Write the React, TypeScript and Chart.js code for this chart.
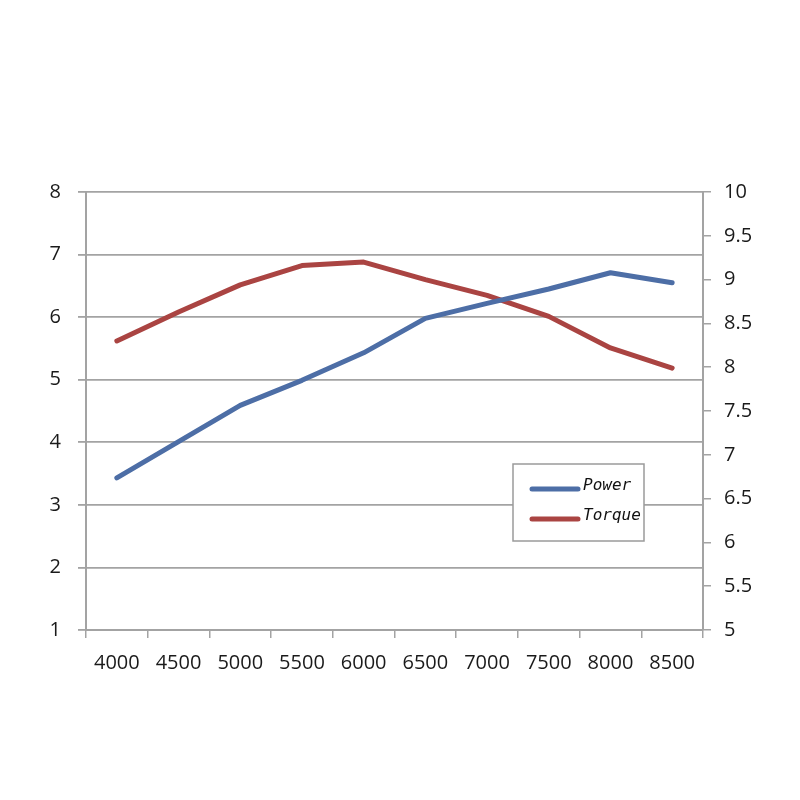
import React, { useEffect, useRef } from "react";
import { Chart, registerables } from "chart.js";

Chart.register(...registerables);

const rpm = ["4000", "4500", "5000", "5500", "6000", "6500", "7000", "7500", "8000", "8500"];
const power = [3.43, 4.01, 4.59, 4.99, 5.43, 5.98, 6.22, 6.45, 6.71, 6.55];
const torque = [8.3, 8.63, 8.94, 9.16, 9.2, 9.0, 8.82, 8.58, 8.22, 7.99];
const seriesNames = ["Power", "Torque"];
const seriesColors = ["#4d6ea6", "#aa4442"];

const GRID = "#a3a3a3";
const TICK_FONT = { family: "'Open Sans', 'Liberation Sans', sans-serif", size: 20 };
const TICK_COLOR = "#1a1a1a";

const insideLegend = {
  id: "insideLegend",
  afterDraw(chart: any) {
    const { ctx, chartArea } = chart;
    const x = chartArea.right - 190;
    const y = chartArea.top + 272;
    const w = 131;
    const h = 77;
    ctx.save();
    ctx.fillStyle = "#ffffff";
    ctx.fillRect(x, y, w, h);
    ctx.strokeStyle = "#9a9a9a";
    ctx.lineWidth = 1.5;
    ctx.strokeRect(x, y, w, h);
    chart.data.datasets.forEach((ds: any, i: number) => {
      const ly = y + 25 + i * 30;
      ctx.strokeStyle = ds.borderColor;
      ctx.lineWidth = 5;
      ctx.lineCap = "round";
      ctx.beginPath();
      ctx.moveTo(x + 19, ly);
      ctx.lineTo(x + 65, ly);
      ctx.stroke();
      ctx.fillStyle = "#111";
      ctx.font = "italic 16px 'DejaVu Sans Mono', monospace";
      ctx.textBaseline = "middle";
      ctx.textAlign = "left";
      ctx.fillText(ds.label, x + 70, ly - 3);
    });
    ctx.restore();
  },
};

export default function App() {
  const ref = useRef<HTMLCanvasElement>(null);
  useEffect(() => {
    const chart = new Chart(ref.current!, {
      type: "line",
      data: {
        labels: rpm,
        datasets: [
          {
            label: seriesNames[0],
            data: power,
            borderColor: seriesColors[0],
            backgroundColor: seriesColors[0],
            borderWidth: 5,
            pointRadius: 0,
            tension: 0,
            yAxisID: "y",
            borderCapStyle: "round",
            borderJoinStyle: "round",
          },
          {
            label: seriesNames[1],
            data: torque,
            borderColor: seriesColors[1],
            backgroundColor: seriesColors[1],
            borderWidth: 5,
            pointRadius: 0,
            tension: 0,
            yAxisID: "y1",
            borderCapStyle: "round",
            borderJoinStyle: "round",
          },
        ],
      },
      options: {
        animation: false,
        responsive: false,
        layout: { padding: { top: 192, left: 0, right: 0, bottom: 0 } },
        plugins: { legend: { display: false }, tooltip: { enabled: false } },
        scales: {
          x: {
            offset: true,
            grid: { offset: true, drawOnChartArea: false, color: GRID, lineWidth: 1.5, tickLength: 8 },
            border: { color: GRID, width: 2 },
            ticks: { color: TICK_COLOR, font: TICK_FONT, padding: 13, maxRotation: 0, autoSkip: false },
            afterFit(s: any) {
              s.height = 170;
            },
          },
          y: {
            position: "left",
            min: 1,
            max: 8,
            ticks: { stepSize: 1, color: TICK_COLOR, font: TICK_FONT, padding: 17 },
            grid: { color: GRID, lineWidth: 1.8, tickLength: 8 },
            border: { color: GRID, width: 2 },
            afterFit(s: any) {
              s.width = 86;
            },
          },
          y1: {
            position: "right",
            min: 5,
            max: 10,
            ticks: {
              stepSize: 0.5,
              color: TICK_COLOR,
              font: TICK_FONT,
              padding: 13,
              callback: (v: any) => String(Number(v)),
            },
            grid: { drawOnChartArea: false, color: GRID, lineWidth: 1.5, tickLength: 8 },
            border: { color: GRID, width: 2 },
            afterFit(s: any) {
              s.width = 97;
            },
          },
        },
      },
      plugins: [insideLegend],
    });
    return () => chart.destroy();
  }, []);
  return (
    <div style={{ position: "fixed", left: 0, top: 0, width: 800, height: 800, background: "#fff" }}>
      <canvas ref={ref} width={800} height={800} style={{ width: 800, height: 800 }} />
    </div>
  );
}
